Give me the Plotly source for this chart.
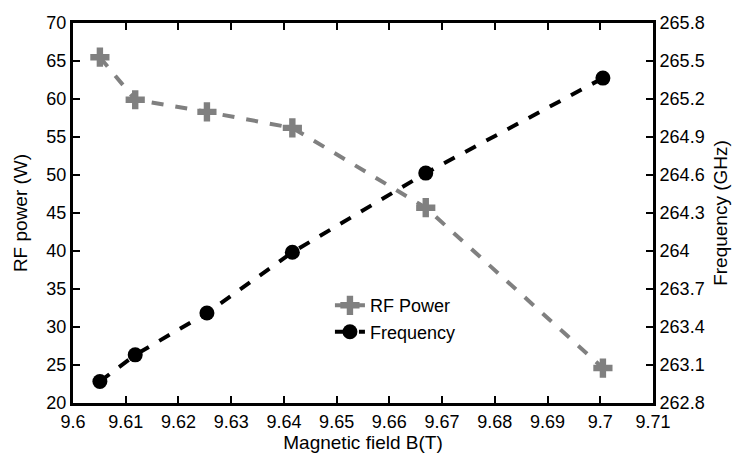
import plotly.graph_objects as go

# Data
field_B = [9.6051, 9.6118, 9.6254, 9.6416, 9.6669, 9.7005]
rf_power = [65.5, 59.9, 58.3, 56.2, 45.7, 24.6]
frequency = [262.97, 263.18, 263.51, 263.99, 264.615, 265.365]

x_tickvals = [9.6, 9.61, 9.62, 9.63, 9.64, 9.65, 9.66, 9.67, 9.68, 9.69, 9.7, 9.71]
x_ticktext = ["9.6", "9.61", "9.62", "9.63", "9.64", "9.65", "9.66", "9.67", "9.68", "9.69", "9.7", "9.71"]
y_tickvals = [20, 25, 30, 35, 40, 45, 50, 55, 60, 65, 70]
y2_tickvals = [262.8, 263.1, 263.4, 263.7, 264.0, 264.3, 264.6, 264.9, 265.2, 265.5, 265.8]
y2_ticktext = ["262.8", "263.1", "263.4", "263.7", "264", "264.3", "264.6", "264.9", "265.2", "265.5", "265.8"]

FONT = "Liberation Sans, Arial, sans-serif"
GRAY = "#808080"
TICK_SIZE = 18
TITLE_SIZE = 19

fig = go.Figure()
fig.add_trace(go.Scatter(
    x=field_B, y=rf_power, name="RF Power", mode="lines+markers",
    line=dict(color=GRAY, width=4, dash="12px,12px"),
    marker=dict(symbol="cross", size=16, color=GRAY),
    yaxis="y",
))
fig.add_trace(go.Scatter(
    x=field_B, y=frequency, name="Frequency", mode="lines+markers",
    line=dict(color="black", width=4, dash="12px,12px"),
    marker=dict(symbol="circle", size=15, color="black"),
    yaxis="y2",
))

axis_common = dict(
    showgrid=False, zeroline=False, showline=True, linecolor="black", linewidth=3,
    ticks="inside", ticklen=7, tickwidth=1.5, tickcolor="black",
    tickfont=dict(family=FONT, size=TICK_SIZE, color="black"),
    automargin=False,
)

fig.update_layout(
    width=739, height=456,
    margin=dict(l=73, r=86, t=23, b=53, autoexpand=False),
    plot_bgcolor="white", paper_bgcolor="white",
    font=dict(family=FONT, size=TICK_SIZE, color="black"),
    xaxis=dict(range=[9.6, 9.71], tickvals=x_tickvals, ticktext=x_ticktext,
               mirror="ticks",
               title=dict(text="Magnetic field B(T)", standoff=3,
                          font=dict(family=FONT, size=TITLE_SIZE)),
               **axis_common),
    yaxis=dict(range=[20, 70], tickvals=y_tickvals, mirror=True,
               title=dict(text="RF power (W)", standoff=14,
                          font=dict(family=FONT, size=TITLE_SIZE)),
               **axis_common),
    yaxis2=dict(range=[262.8, 265.8], tickvals=y2_tickvals, ticktext=y2_ticktext,
                overlaying="y", side="right",
                title=dict(text="Frequency (GHz)", standoff=11,
                           font=dict(family=FONT, size=TITLE_SIZE)),
                **axis_common),
    legend=dict(x=0.443, y=0.305, xanchor="left", yanchor="top",
                bgcolor="rgba(0,0,0,0)", font=dict(family=FONT, size=18),
                itemwidth=30, tracegroupgap=0),
    showlegend=True,
)

fig.write_html("out.html", config={"displayModeBar": False},
               post_script="document.body.style.margin='0';")
